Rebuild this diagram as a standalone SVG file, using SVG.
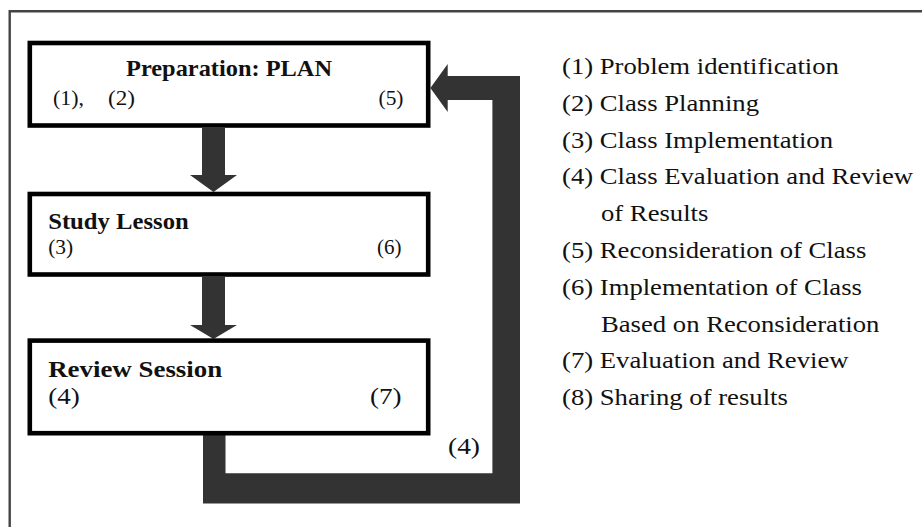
<svg xmlns="http://www.w3.org/2000/svg" width="922" height="527" viewBox="0 0 922 527">
<style>
.frame{fill:none;stroke:#444;stroke-width:2.4}
.box{fill:#fff;stroke:#000;stroke-width:4.6}
.arr{fill:#333;stroke:none}
.t{font-family:"Liberation Serif","Times New Roman",serif;fill:#111}
.title{font-weight:bold;font-size:22.5px}
.lab{font-size:21px}
.lab3{font-size:23.5px}
.list{font-size:23px}
</style>
<rect width="922" height="527" fill="#fff"/>
<path class="frame" d="M9.7,528 V11.3 H923"/>
<g id="connectors">
<polygon class="arr" points="202,128 225,128 225,175 237,175 213.5,192 190,175 202,175"/>
<polygon class="arr" points="202,277 225,277 225,325 237,325 213.5,339 190,325 202,325"/>
<polygon class="arr" points="203,435 203,503.5 520,503.5 520,76 447.7,76 447.7,64 430.4,88 447.7,112 447.7,100 492.4,100 492.4,473.3 225.5,473.3 225.5,435"/>
<text class="t lab3" x="448" y="454" textLength="32" lengthAdjust="spacingAndGlyphs">(4)</text>
</g>
<g id="node-plan">
<rect class="box" x="29.8" y="43" width="398.4" height="82.5"/>
<text class="t title" x="126" y="76" textLength="206" lengthAdjust="spacingAndGlyphs">Preparation: PLAN</text>
<text class="t lab" x="53" y="104.5" textLength="31" lengthAdjust="spacingAndGlyphs">(1),</text>
<text class="t lab" x="108" y="104.5" textLength="27" lengthAdjust="spacingAndGlyphs">(2)</text>
<text class="t lab" x="378.5" y="104.5" textLength="25" lengthAdjust="spacingAndGlyphs">(5)</text>
</g>
<g id="node-study">
<rect class="box" x="29.8" y="194" width="398.4" height="80.5"/>
<text class="t title" x="48.2" y="228.5" textLength="140.5" lengthAdjust="spacingAndGlyphs">Study Lesson</text>
<text class="t lab" x="48.2" y="253.5" textLength="25" lengthAdjust="spacingAndGlyphs">(3)</text>
<text class="t lab" x="377" y="253.5" textLength="24.5" lengthAdjust="spacingAndGlyphs">(6)</text>
</g>
<g id="node-review">
<rect class="box" x="29.8" y="340.6" width="398.4" height="92.6"/>
<text class="t title" x="48.2" y="377" style="font-size:24px" textLength="174" lengthAdjust="spacingAndGlyphs">Review Session</text>
<text class="t lab3" x="48.2" y="404" textLength="31.5" lengthAdjust="spacingAndGlyphs">(4)</text>
<text class="t lab3" x="370" y="404" textLength="31.5" lengthAdjust="spacingAndGlyphs">(7)</text>
</g>
<g id="legend" transform="scale(1.16,1)">
<text class="t list" x="484.5" y="74">(1) Problem identification</text>
<text class="t list" x="484.5" y="110.8">(2) Class Planning</text>
<text class="t list" x="484.5" y="147.6">(3) Class Implementation</text>
<text class="t list" x="484.5" y="184.4">(4) Class Evaluation and Review</text>
<text class="t list" x="518.1" y="221.2">of Results</text>
<text class="t list" x="484.5" y="258">(5) Reconsideration of Class</text>
<text class="t list" x="484.5" y="294.8">(6) Implementation of Class</text>
<text class="t list" x="518.1" y="331.6">Based on Reconsideration</text>
<text class="t list" x="484.5" y="368.4">(7) Evaluation and Review</text>
<text class="t list" x="484.5" y="405.2">(8) Sharing of results</text>
</g>
</svg>
